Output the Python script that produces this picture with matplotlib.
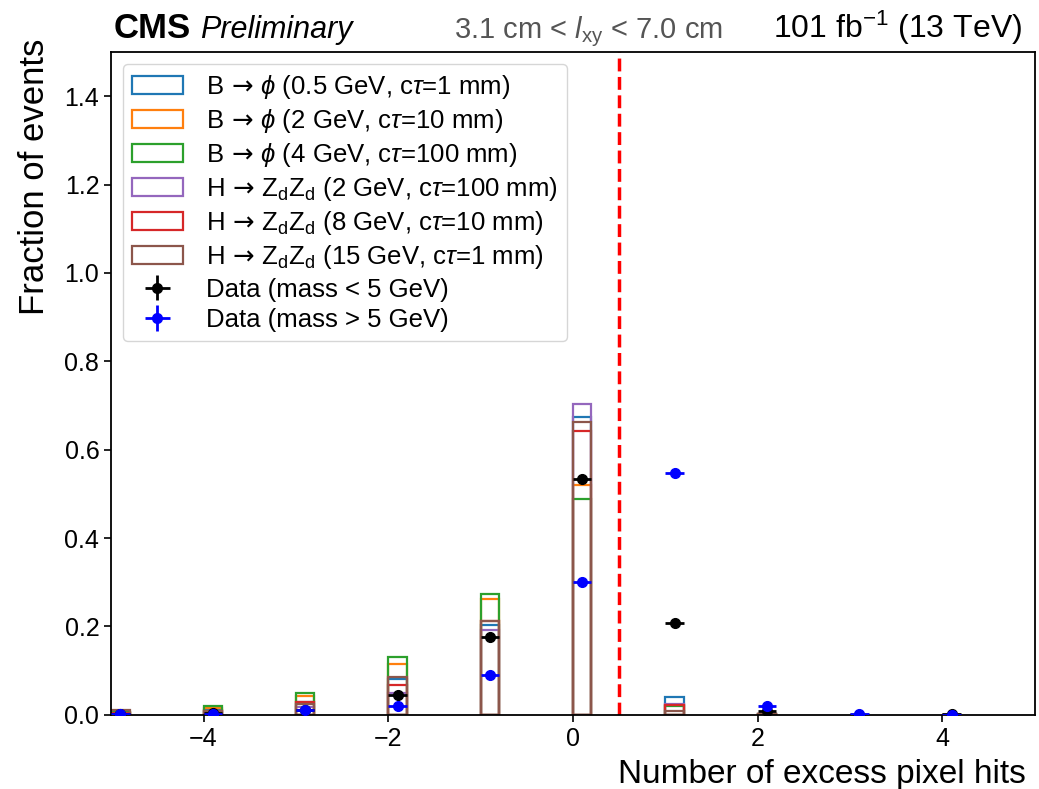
import matplotlib

matplotlib.use("Agg")
import matplotlib.pyplot as plt
import numpy as np

plt.rcParams["font.family"] = ["Liberation Sans", "DejaVu Sans"]
plt.rcParams["mathtext.fontset"] = "custom"
plt.rcParams["mathtext.rm"] = "Liberation Sans"
plt.rcParams["mathtext.it"] = "Liberation Sans:italic"
plt.rcParams["mathtext.sf"] = "DejaVu Sans"

# bin lower edges (number of excess pixel hits)
bins = [-5, -4, -3, -2, -1, 0, 1, 2, 3, 4]

signal_labels = [
    r"B$\,\mathsf{\rightarrow}\,\phi$ (0.5 GeV, c$\tau$=1 mm)",
    r"B$\,\mathsf{\rightarrow}\,\phi$ (2 GeV, c$\tau$=10 mm)",
    r"B$\,\mathsf{\rightarrow}\,\phi$ (4 GeV, c$\tau$=100 mm)",
    r"H$\,\mathsf{\rightarrow}\,$Z$_{\rm d}$Z$_{\rm d}$ (2 GeV, c$\tau$=100 mm)",
    r"H$\,\mathsf{\rightarrow}\,$Z$_{\rm d}$Z$_{\rm d}$ (8 GeV, c$\tau$=10 mm)",
    r"H$\,\mathsf{\rightarrow}\,$Z$_{\rm d}$Z$_{\rm d}$ (15 GeV, c$\tau$=1 mm)",
]
b_05gev = [0.004, 0.010, 0.030, 0.080, 0.203, 0.674, 0.041, 0.001, 0.0, 0.0]
b_2gev = [0.006, 0.015, 0.043, 0.115, 0.263, 0.521, 0.022, 0.001, 0.0, 0.0]
b_4gev = [0.007, 0.021, 0.050, 0.130, 0.273, 0.488, 0.019, 0.001, 0.0, 0.0]
h_2gev = [0.003, 0.006, 0.018, 0.049, 0.191, 0.704, 0.025, 0.001, 0.0, 0.0]
h_8gev = [0.005, 0.009, 0.029, 0.068, 0.213, 0.642, 0.023, 0.001, 0.0, 0.0]
h_15gev = [0.010, 0.008, 0.025, 0.085, 0.213, 0.663, 0.009, 0.001, 0.0, 0.0]
signal_values = [b_05gev, b_2gev, b_4gev, h_2gev, h_8gev, h_15gev]
signal_colors = ["tab:blue", "tab:orange", "tab:green", "tab:purple", "tab:red", "tab:brown"]

data_low = [0.002, 0.004, 0.012, 0.046, 0.177, 0.533, 0.208, 0.008, 0.0005, 0.001]
data_low_err = [0.001, 0.001, 0.002, 0.003, 0.004, 0.005, 0.004, 0.002, 0.001, 0.001]
data_high = [0.002, 0.003, 0.010, 0.020, 0.090, 0.300, 0.548, 0.020, 0.001, 0.0002]
data_high_err = [0.001, 0.001, 0.002, 0.003, 0.004, 0.005, 0.006, 0.003, 0.001, 0.001]

BAR_W = 0.2

fig = plt.figure(figsize=(10.39, 7.89), dpi=100)
ax = fig.add_axes([0.107, 0.094, 0.889, 0.840])

for vals, color, label in zip(signal_values, signal_colors, signal_labels):
    ax.bar(bins, vals, width=BAR_W, align="edge", fill=False,
           edgecolor=color, linewidth=1.6, label=label)

x_pts = np.array(bins) + BAR_W / 2
ax.errorbar(x_pts, data_low, yerr=data_low_err, xerr=0.1, fmt="o", color="black",
            ms=7, elinewidth=2, label="Data (mass < 5 GeV)", zorder=5)
ax.errorbar(x_pts, data_high, yerr=data_high_err, xerr=0.1, fmt="o", color="blue",
            ms=7, elinewidth=2, label="Data (mass > 5 GeV)", zorder=5)

ax.axvline(0.5, color="red", linestyle="--", linewidth=2.5)

ax.set_xlim(-5, 5)
ax.set_ylim(0, 1.5)
ax.set_xticks([-4, -2, 0, 2, 4])
ax.set_yticks([0.0, 0.2, 0.4, 0.6, 0.8, 1.0, 1.2, 1.4])
ax.tick_params(labelsize=18, width=1.2, length=5)
for spine in ax.spines.values():
    spine.set_linewidth(1.3)

ax.set_xlabel("Number of excess pixel hits", fontsize=24, x=0.99, ha="right", labelpad=6)
ax.set_ylabel("Fraction of events", fontsize=25, y=1.02, ha="right", labelpad=10)

ax.legend(loc="upper left", fontsize=18.5, handlelength=2.0, handletextpad=0.9,
          labelspacing=0.24, borderaxespad=0.45, borderpad=0.35, framealpha=0.8)

top = 1 - 38 / 789
fig.text(0.109, top, "CMS", fontsize=25, fontweight="bold", va="baseline")
fig.text(0.193, top, "Preliminary", fontsize=22, style="italic", va="baseline")
fig.text(0.566, top, r"3.1 cm < $l_{\rm xy}$ < 7.0 cm", fontsize=21, color="#555555",
         va="baseline", ha="center")
fig.text(0.984, top, r"101 fb$^{-1}$ (13 TeV)", fontsize=23, va="baseline", ha="right")

fig.savefig("out.png", dpi=100)
